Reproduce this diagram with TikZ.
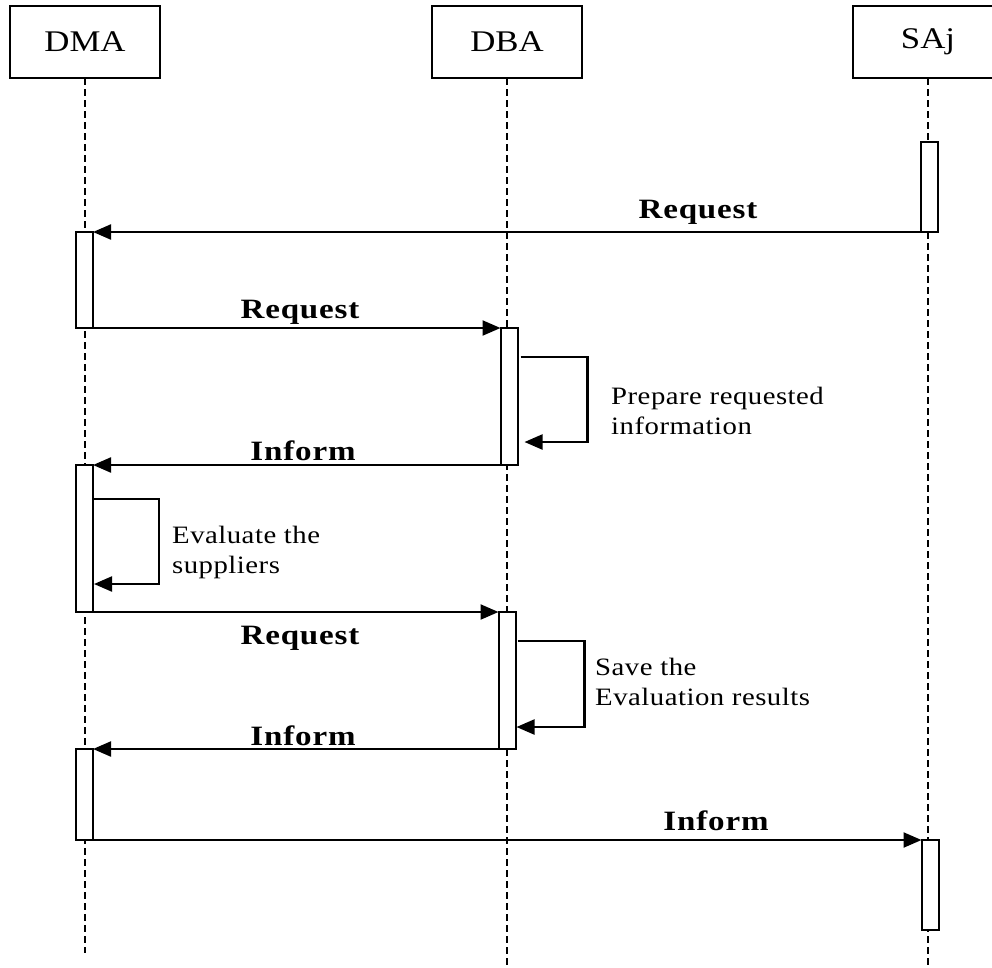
\documentclass[tikz,border=0pt]{standalone}
\usepackage{fontspec}
\setmainfont{Liberation Serif}
\newfontfamily\headfont[FakeStretch=1.16]{Liberation Serif}
\newfontfamily\msgfont[FakeStretch=1.18,LetterSpace=3]{Liberation Serif}
\newfontfamily\notefont[FakeStretch=1.15,LetterSpace=2]{Liberation Serif}
\usetikzlibrary{arrows.meta,calc}

\begin{document}
\begin{tikzpicture}[x=1pt,y=-1pt,
  head/.style={draw,line width=2pt,minimum width=150pt,minimum height=72pt,
    inner sep=0,outer sep=0,font=\headfont\fontsize{30}{36}\selectfont},
  life/.style={line width=2pt,dash pattern=on 7pt off 4pt},
  bar/.style={draw,fill=white,line width=2pt,minimum width=17pt,
    inner sep=0,outer sep=0,anchor=north},
  msg/.style={line width=2.2pt,-{Triangle[length=18pt,width=15pt]}},
  lbl/.style={font=\msgfont\bfseries\fontsize{28}{32}\selectfont,anchor=base,inner sep=0},
  note/.style={font=\notefont\fontsize{25}{30}\selectfont,align=left,anchor=west,inner sep=0},
]
\useasboundingbox (0,0) rectangle (992,967);
\clip (0,0) rectangle (992,967);

% lifeline heads
\node[head] (dma) at (85,42) {DMA};
\node[head] (dba) at (507,42) {DBA};
\node[head] (saj) at (928,42) {SAj};

% lifeline ends
\coordinate (dmaend) at (85,953);
\coordinate (dbaend) at (507,967);
\coordinate (sajend) at (928,967);

\draw[life] (dma.south) -- (dmaend);
\draw[life] (dba.south) -- (dbaend);
\draw[life] (saj.south) -- (sajend);

% activation bars
\node[bar,minimum height=90pt]  (sa1) at (929.5,142) {};
\node[bar,minimum height=96pt]  (dm1) at (84.5,232) {};
\node[bar,minimum height=137pt] (db1) at (509,328) {};
\node[bar,minimum height=147pt] (dm2) at (84.5,465) {};
\node[bar,minimum height=137pt] (db2) at (507,612) {};
\node[bar,minimum height=91pt]  (dm3) at (84.5,749) {};
\node[bar,minimum height=90pt]  (sa2) at (930,840) {};

% messages
\draw[msg] (sa1.south west) -- (dm1.north east);
\draw[msg] (dm1.south east) -- (db1.north west);
\draw[msg] (db1.south west) -- (dm2.north east);
\draw[msg] (dm2.south east) -- (db2.north west);
\draw[msg] (db2.south west) -- (dm3.north east);
\draw[msg] (dm3.south east) -- (sa2.north west);

% self calls
\draw[msg] ([shift={(3pt,-29pt)}]db1.north east) -- ++(67pt,0pt) -- ++(0pt,-85pt)
  -- ([shift={(7pt,-114pt)}]db1.north east);
\draw[msg] ([yshift=-34pt]dm2.north east) -- ++(66pt,0pt) -- ++(0pt,-85pt)
  -- ([shift={(1pt,-119pt)}]dm2.north east);
\draw[msg] ([shift={(2pt,-29pt)}]db2.north east) -- ++(67pt,0pt) -- ++(0pt,-86pt)
  -- ([shift={(1pt,-115pt)}]db2.north east);

% message labels
\node[lbl] (l1) at (698,218) {Request};
\node[lbl] (l2) at (300,318) {Request};
\node[lbl] (l3) at (303,460) {Inform};
\node[lbl] (l4) at (300,644) {Request};
\node[lbl] (l5) at (303,745) {Inform};
\node[lbl] (l6) at (716,830) {Inform};

% notes
\node[note] (n1) at (611,411) {Prepare requested\\information};
\node[note] (n2) at (172,552) {Evaluate the\\suppliers};
\node[note] (n3) at (595,682) {Save the\\Evaluation results};
\end{tikzpicture}
\end{document}
